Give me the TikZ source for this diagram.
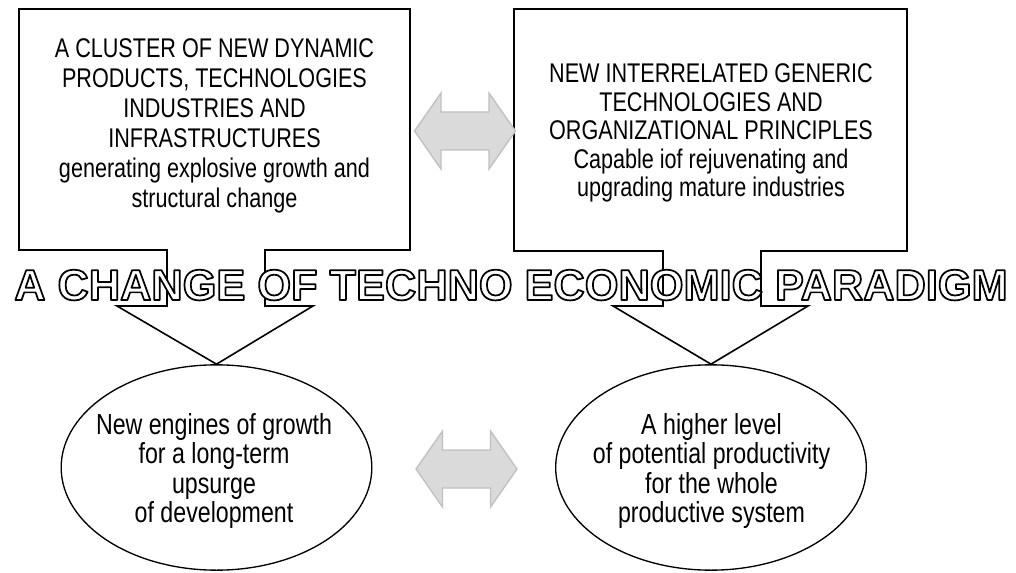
\documentclass[tikz,border=0pt]{standalone}
\usepackage{fontspec}
\setmainfont{Liberation Sans}[FakeStretch=0.8]
\newfontfamily\titlefont{Liberation Sans Bold}
\usetikzlibrary{shapes.geometric, positioning, calc}
\definecolor{arrowfill}{HTML}{DADADA}
\definecolor{arrowedge}{HTML}{C0C0C0}
% hollow letters: white fill, black stroke
\newcommand{\hollowtext}[1]{{\color{white}\special{pdf:literal direct 0 G 2 Tr 1.3 w 1 j}#1\special{pdf:literal direct 0 Tr}}}

\begin{document}
\begin{tikzpicture}
  [
    x=0.75pt, y=-0.75pt,
    Callout/.style={draw=black, line width=1.2pt, line join=miter},
    Oval/.style={ellipse, draw=black, line width=1pt, minimum width=233pt, minimum height=154pt, inner sep=0pt},
    Body/.style={align=center, font=\fontsize{20.25}{22.5}\selectfont, inner sep=0pt},
    OvalText/.style={align=center, font=\fontsize{21.75}{22}\selectfont, inner sep=0pt},
    Twoway/.pic={\draw[fill=arrowfill, draw=arrowedge, line width=1pt]
      (-50.5,0) -- (-24,-38) -- (-24,-19) -- (24,-19) -- (24,-38) -- (50.5,0)
      -- (24,38) -- (24,19) -- (-24,19) -- (-24,38) -- cycle;}
  ]
  \useasboundingbox (0,0) rectangle (1016,573);
  % Ellipses
  \node[Oval] (growth) at (216.5,467.5) {};
  \node[Oval] (productivity) at (711,467.5) {};
  \node[OvalText] (growthtext) at (214,471) {New engines of growth\\ for a long-term\\ upsurge\\ of development};
  \node[OvalText] (productivitytext) at (711.5,471) {A higher level\\ of potential productivity\\ for the whole\\ productive system};
  % Boxes
  \node[Body] (cluster) at (214.5,126) {A CLUSTER OF NEW DYNAMIC\\ PRODUCTS, TECHNOLOGIES\\ INDUSTRIES AND\\ INFRASTRUCTURES\\ generating explosive growth and\\ structural change};
  \node[Body, font=\fontsize{20.25}{21.4}\selectfont] (generic) at (711,133) {NEW INTERRELATED GENERIC\\ TECHNOLOGIES AND\\ ORGANIZATIONAL PRINCIPLES\\ Capable iof rejuvenating and\\ upgrading mature industries};
  \draw[Callout] (19,9) -- (410,9) -- (410,250) -- (265,250) -- (265,306) -- (313,306)
    -- (growth.north) -- (117,306) -- (167,306) -- (167,250) -- (19,250) -- cycle;
  \draw[Callout] (514,9) -- (907,9) -- (907,251) -- (761,251) -- (761,306) -- (808,306)
    -- (productivity.north) -- (613,306) -- (663,306) -- (663,251) -- (514,251) -- cycle;
  % Arrows
  \pic (linktop) at (465,131) {Twoway};
  \pic (linkbottom) at (466.5,469) {Twoway};
  % Title
  \node[inner sep=0pt, anchor=base] (paradigm) at (511,300)
    {\titlefont\fontsize{32.5}{39}\selectfont\hollowtext{A CHANGE OF TECHNO ECONOMIC PARADIGM}};
\end{tikzpicture}
\end{document}
